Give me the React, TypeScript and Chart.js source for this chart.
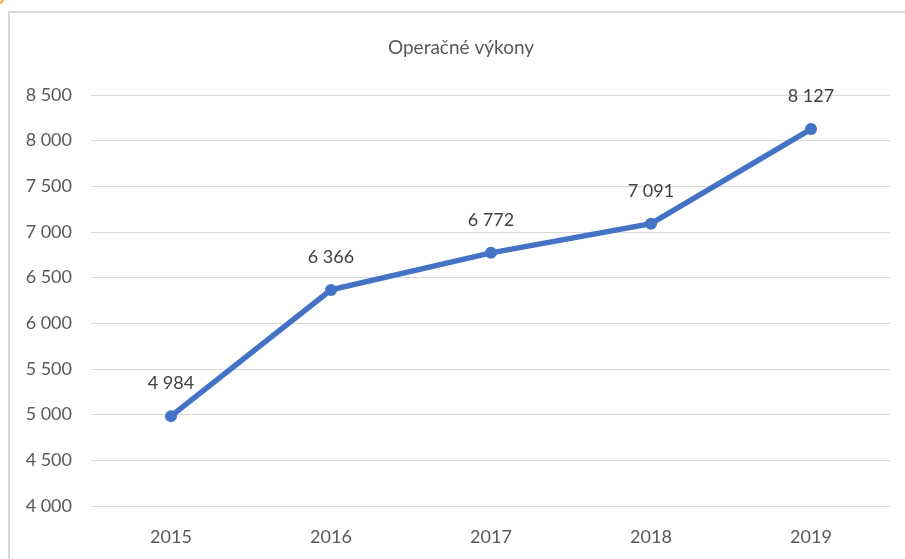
import React, { useEffect, useRef } from "react";
import { Chart, registerables } from "chart.js";

Chart.register(...registerables);

const title = "Operačné výkony";
const categories = ["2015", "2016", "2017", "2018", "2019"];
const values = [4984, 6366, 6772, 7091, 8127];
const yMin = 4000;
const yMax = 8500;
const yStep = 500;

const fmt = (v: number) => {
  const s = Math.round(v).toString();
  return s.replace(/\B(?=(\d{3})+(?!\d))/g, " ");
};

const FONT = "Lato, 'Open Sans', sans-serif";

const labelPlugin = {
  id: "dataLabelsAndTitle",
  afterDatasetsDraw(chart: any) {
    const ctx = chart.ctx;
    const meta = chart.getDatasetMeta(0);
    ctx.save();
    ctx.font = `18px ${FONT}`;
    ctx.fillStyle = "#404040";
    ctx.textAlign = "center";
    ctx.textBaseline = "middle";
    meta.data.forEach((pt: any, i: number) => {
      ctx.fillText(fmt(values[i]), pt.x, pt.y - 33);
    });
    ctx.font = `19px ${FONT}`;
    ctx.fillStyle = "#595959";
    ctx.fillText(title, 461, 48);
    ctx.restore();
  },
};

export default function App() {
  const ref = useRef<HTMLCanvasElement>(null);
  useEffect(() => {
    if (!ref.current) return;
    const chart = new Chart(ref.current, {
      type: "line",
      data: {
        labels: categories,
        datasets: [
          {
            data: values,
            borderColor: "#4472C4",
            backgroundColor: "#4472C4",
            borderWidth: 5.5,
            pointRadius: 6,
            pointHoverRadius: 6,
            pointBorderWidth: 0,
            tension: 0,
          },
        ],
      },
      options: {
        animation: false,
        responsive: false,
        maintainAspectRatio: false,
        layout: { padding: { top: 95, right: 14, left: 0, bottom: 0 } },
        plugins: {
          legend: { display: false },
          title: { display: false },
          tooltip: { enabled: false },
        },
        scales: {
          x: {
            offset: true,
            grid: { display: false, drawTicks: false },
            border: { display: false },
            ticks: {
              padding: 20,
              color: "#595959",
              font: { size: 18, family: FONT },
            },
            afterFit(scale: any) {
              scale.height = 53;
            },
          },
          y: {
            min: yMin,
            max: yMax,
            grid: { color: "#d9d9d9", lineWidth: 1, drawTicks: false },
            border: { display: false },
            ticks: {
              stepSize: yStep,
              padding: 19,
              color: "#595959",
              font: { size: 18, family: FONT },
              callback: (v: any) => fmt(Number(v)),
            },
            afterFit(scale: any) {
              scale.width = 91;
            },
          },
        },
      },
      plugins: [labelPlugin],
    });
    return () => chart.destroy();
  }, []);

  return (
    <div
      style={{
        position: "fixed",
        left: 0,
        top: 0,
        width: 905,
        height: 559,
        background: "#ffffff",
        overflow: "hidden",
      }}
    >
      <div
        style={{
          position: "absolute",
          left: 8,
          top: 11,
          width: 960,
          height: 600,
          borderLeft: "2px solid #d9d9d9",
          borderTop: "2px solid #d9d9d9",
          boxSizing: "border-box",
        }}
      />
      <div
        style={{
          position: "absolute",
          left: -6,
          top: -6,
          width: 10,
          height: 10,
          borderRadius: "50%",
          border: "2px solid #f5a623",
          boxSizing: "border-box",
        }}
      />
      <canvas
        ref={ref}
        width={905}
        height={559}
        style={{ position: "absolute", left: 0, top: 0, width: 905, height: 559 }}
      />
    </div>
  );
}
